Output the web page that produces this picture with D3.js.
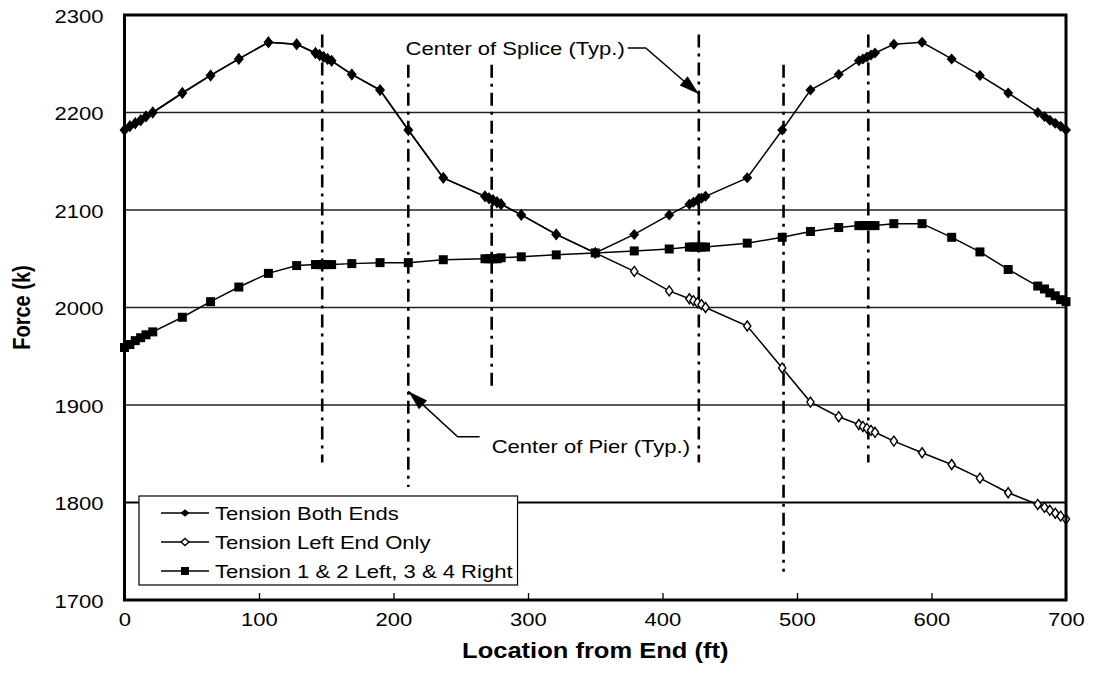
<!DOCTYPE html>
<html>
<head>
<meta charset="utf-8">
<script src="https://cdn.jsdelivr.net/npm/d3@7/dist/d3.min.js"></script>
<style>
  html, body { margin: 0; padding: 0; background: #fff; }
  svg { display: block; }
  text { font-family: Arial, "Liberation Sans", sans-serif; fill: #000; }
</style>
</head>
<body>
<svg id="chart" width="1097" height="695"></svg>
<script>
// ---------------- DATA ----------------
const locations = [0, 4, 8, 12, 16, 21, 43, 64, 85, 107, 128, 142, 145, 148, 151, 154, 169, 190, 211, 237,
  268, 271, 274, 277, 280, 295, 321, 350, 379, 405, 420, 423, 426, 429, 432, 463, 489, 510, 531,
  546, 549, 552, 555, 558, 572, 593, 615, 636, 657, 679, 684, 688, 692, 696, 700];

const tensionBothEnds = [2182, 2186, 2189, 2192, 2196, 2200, 2220, 2238, 2255, 2272, 2270, 2261, 2259, 2257, 2255, 2253, 2239, 2223, 2182, 2133,
  2114, 2112, 2110, 2108, 2106, 2095, 2075, 2056, 2075, 2095, 2106, 2108, 2110, 2112, 2114, 2133, 2182, 2223, 2239,
  2253, 2255, 2257, 2259, 2261, 2270, 2272, 2255, 2238, 2220, 2200, 2196, 2192, 2189, 2186, 2182];

const tensionLeftOnly = [2182, 2186, 2189, 2192, 2196, 2200, 2220, 2238, 2255, 2272, 2270, 2261, 2259, 2257, 2255, 2253, 2239, 2223, 2182, 2133,
  2114, 2112, 2110, 2108, 2106, 2095, 2075, 2056, 2037, 2017, 2009, 2007, 2005, 2003, 2000, 1981, 1938, 1903, 1888,
  1880, 1878, 1876, 1874, 1872, 1863, 1851, 1839, 1825, 1810, 1798, 1795, 1792, 1789, 1786, 1783];

const tensionSplit = [1959, 1962, 1966, 1969, 1972, 1975, 1990, 2006, 2021, 2035, 2043, 2044, 2044, 2044, 2044, 2044, 2045, 2046, 2046, 2049,
  2050, 2050, 2050, 2050, 2051, 2052, 2054, 2056, 2058, 2060, 2062, 2062, 2062, 2062, 2062, 2066, 2072, 2078, 2082,
  2084, 2084, 2084, 2084, 2084, 2086, 2086, 2072, 2057, 2039, 2022, 2019, 2015, 2012, 2008, 2006];

const seriesNames = ["Tension Both Ends", "Tension Left End Only", "Tension 1 & 2 Left, 3 & 4 Right"];

const xTicks = [0, 100, 200, 300, 400, 500, 600, 700];
const yTicks = [1700, 1800, 1900, 2000, 2100, 2200, 2300];

// reference (dash-dot) lines: location, bottom force, top force
const refLineX   = [147, 211, 273, 427, 490, 553];
const refLineLow = [1841, 1816, 1918, 1841, 1729, 1841];
const refLineHigh= [2280, 2249, 2249, 2280, 2249, 2280];

// annotations: text start [x, baseline force], arrow tip [x, force]
const spliceLabel = "Center of Splice (Typ.)";
const spliceText = [209, 2259];
const spliceTip = [427, 2219];
const pierLabel = "Center of Pier (Typ.)";
const pierText = [273, 1851];
const pierTip = [211, 1914];

const xTitle = "Location from End (ft)";
const yTitle = "Force (k)";

// ---------------- CHART ----------------
const SX = 1.16; // horizontal text stretch seen in the reference
const svg = d3.select("#chart");
const x = d3.scaleLinear().domain([0, 700]).range([124.5, 1066]);
const y = d3.scaleLinear().domain([1700, 2300]).range([600, 15]);

function stext(sel, px, py, str, opt = {}) {
  return sel.append("text")
    .attr("transform", `translate(${px},${py}) scale(${SX},1)`)
    .attr("font-size", opt.size || 19)
    .attr("font-weight", opt.weight || "normal")
    .attr("text-anchor", opt.anchor || "start")
    .text(str);
}
const diamondPath = (w, h) => `M0,${-h}L${w},0L0,${h}L${-w},0Z`;
const squarePath = s => `M${-s / 2},${-s / 2}h${s}v${s}h${-s}Z`;

function styleMarker(sel, kind, legend) {
  if (kind === "square") sel.attr("d", squarePath(legend ? 8 : 9)).attr("fill", "#000");
  else if (kind === "open") sel.attr("d", legend ? diamondPath(4, 3.5) : diamondPath(3.6, 5))
    .attr("fill", "#fff").attr("stroke", "#000").attr("stroke-width", 1.4);
  else sel.attr("d", legend ? diamondPath(4.5, 3.8) : diamondPath(5, 5.5)).attr("fill", "#000");
}

// gridlines
svg.append("g").selectAll("line").data(yTicks.slice(1, -1)).join("line")
  .attr("x1", x(0)).attr("x2", x(700))
  .attr("y1", d => y(d)).attr("y2", d => y(d))
  .attr("stroke", d => d === 1800 ? "#000" : "#222")
  .attr("stroke-width", d => d === 1800 ? 2.2 : 1.3);

// reference dash-dot lines
svg.append("g").selectAll("line").data(refLineX).join("line")
  .attr("x1", d => x(d)).attr("x2", d => x(d))
  .attr("y1", (d, i) => y(refLineHigh[i])).attr("y2", (d, i) => y(refLineLow[i]))
  .attr("stroke", "#000").attr("stroke-width", 2.6)
  .attr("stroke-dasharray", "13,6,3,6");

// axes (ticks + labels)
const xAxis = d3.axisBottom(x).tickValues(xTicks).tickSize(-7).tickFormat(d3.format("d"));
const gx = svg.append("g").attr("transform", `translate(0,${y(1700)})`).call(xAxis);
gx.select(".domain").remove();
gx.selectAll(".tick line").attr("stroke", "#000").attr("stroke-width", 1.3);
gx.selectAll(".tick text").remove();
gx.selectAll(".tick").each(function(d) {
  stext(d3.select(this), 0, 26, String(d), {anchor: "middle", size: 19});
});

const yAxis = d3.axisLeft(y).tickValues(yTicks).tickSize(0).tickFormat(d3.format("d"));
const gy = svg.append("g").attr("transform", `translate(${x(0)},0)`).call(yAxis);
gy.select(".domain").remove();
gy.selectAll(".tick text").remove();
gy.selectAll(".tick").each(function(d) {
  stext(d3.select(this), -21, 7, String(d), {anchor: "end", size: 19});
});

// series
const idx = d3.range(locations.length);
const line = vals => d3.line().x(i => x(locations[i])).y(i => y(vals[i]))(idx);

function drawSeries(vals, kind) {
  const g = svg.append("g");
  g.append("path").attr("d", line(vals)).attr("fill", "none")
    .attr("stroke", "#000").attr("stroke-width", 1.5);
  const m = g.selectAll("path.m").data(idx).join("path").attr("class", "m")
    .attr("transform", i => `translate(${x(locations[i])},${y(vals[i])})`);
  styleMarker(m, kind, false);
}
drawSeries(tensionSplit, "square");
drawSeries(tensionLeftOnly, "open");
drawSeries(tensionBothEnds, "filled");

// frame
svg.append("rect")
  .attr("x", x(0)).attr("y", y(2300))
  .attr("width", x(700) - x(0)).attr("height", y(1700) - y(2300))
  .attr("fill", "none").attr("stroke", "#000").attr("stroke-width", 3);

// annotations
const ann = svg.append("g");
function arrow(p0, p1, p2) {
  ann.append("polyline").attr("points", [p0, p1, p2].map(p => p.join(",")).join(" "))
    .attr("fill", "none").attr("stroke", "#000").attr("stroke-width", 1.5);
  const ang = Math.atan2(p2[1] - p1[1], p2[0] - p1[0]) * 180 / Math.PI;
  ann.append("path").attr("d", "M0,0 L-20,-6 L-20,6 Z")
    .attr("transform", `translate(${p2[0]},${p2[1]}) rotate(${ang})`).attr("fill", "#000");
}
const st = stext(ann, x(spliceText[0]), y(spliceText[1]), spliceLabel, {size: 19});
const stW = st.node().getComputedTextLength() * SX;
const sx0 = x(spliceText[0]) + stW + 3, sy0 = y(spliceText[1]) - 7;
arrow([sx0, sy0], [sx0 + 18, sy0], [x(spliceTip[0]), y(spliceTip[1])]);

stext(ann, x(pierText[0]), y(pierText[1]), pierLabel, {size: 19});
const px0 = x(pierText[0]) - 12, py0 = y(pierText[1]) - 16;
arrow([px0, py0], [px0 - 22, py0], [x(pierTip[0]), y(pierTip[1])]);

// legend
const lg = svg.append("g").attr("transform", "translate(139,496)");
const lgBox = lg.append("rect").attr("x", 0).attr("y", 0).attr("height", 89)
  .attr("fill", "#fff").attr("stroke", "#000").attr("stroke-width", 1.2);
const kinds = ["filled", "open", "square"];
let maxW = 0;
seriesNames.forEach((name, i) => {
  const cy = 17 + i * 29;
  lg.append("line").attr("x1", 22).attr("x2", 70).attr("y1", cy).attr("y2", cy)
    .attr("stroke", "#000").attr("stroke-width", 1.5);
  styleMarker(lg.append("path").attr("transform", `translate(46,${cy})`), kinds[i], true);
  const t = stext(lg, 76, cy + 7, name, {size: 19});
  maxW = Math.max(maxW, t.node().getComputedTextLength() * SX);
});
lgBox.attr("width", 76 + maxW + 5);

// axis titles
stext(svg, (x(0) + x(700)) / 2, 658, xTitle, {size: 22, weight: "bold", anchor: "middle"});
svg.append("text")
  .attr("transform", `translate(30,${(y(1700) + y(2300)) / 2}) rotate(-90) scale(1,${SX})`)
  .attr("font-size", 20).attr("font-weight", "bold").attr("text-anchor", "middle")
  .text(yTitle);
</script>
</body>
</html>
